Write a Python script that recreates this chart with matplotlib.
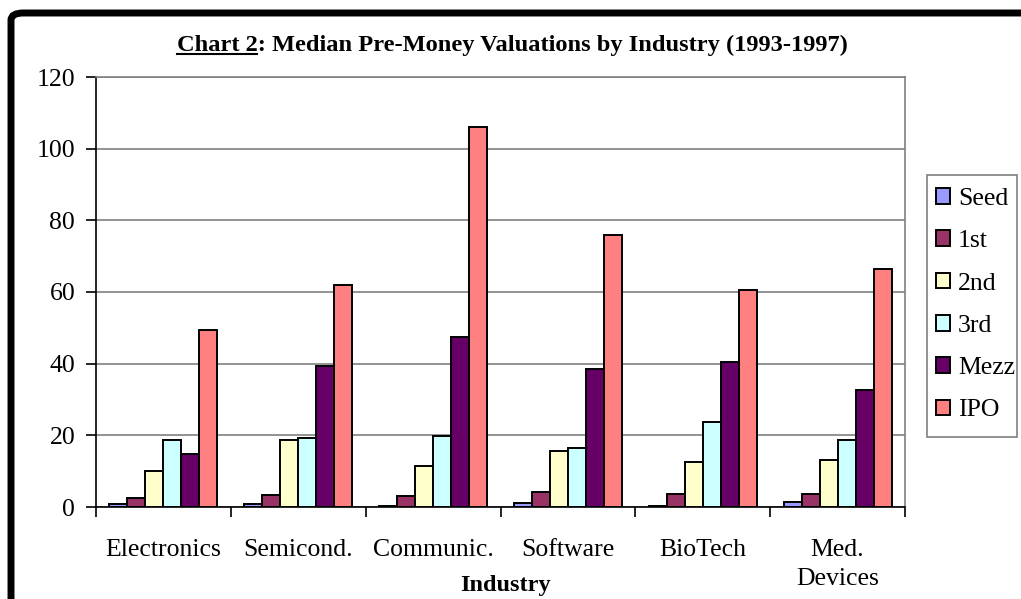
import matplotlib
matplotlib.use("Agg")
import matplotlib.pyplot as plt
import numpy as np
from matplotlib.patches import FancyBboxPatch, Rectangle

plt.rcParams['font.family'] = ['Liberation Serif', 'DejaVu Serif']

categories = ["Electronics", "Semicond.", "Communic.", "Software", "BioTech", "Med.\nDevices"]
series_names = ["Seed", "1st", "2nd", "3rd", "Mezz", "IPO"]
seed = [0.9, 0.9, 0.4, 1.0, 0.3, 1.4]
first = [2.6, 3.3, 3.2, 4.2, 3.7, 3.7]
second = [10.0, 18.7, 11.5, 15.5, 12.6, 13.2]
third = [18.8, 19.3, 19.8, 16.6, 23.8, 18.8]
mezz = [14.9, 39.4, 47.4, 38.5, 40.5, 32.7]
ipo = [49.4, 62.0, 106.0, 76.0, 60.5, 66.5]
yticks = [0, 20, 40, 60, 80, 100, 120]

colors = ["#9999FF", "#993366", "#FFFFCC", "#CCFFFF", "#660066", "#FF8080"]
values = [seed, first, second, third, mezz, ipo]

W, H = 1021, 599
fig = plt.figure(figsize=(W/100, H/100), dpi=100)
ax = fig.add_axes([96/W, 92/H, 809/W, 430/H])

n = len(series_names)
bw = 1/7.5
x = np.arange(len(categories))
for i, (name, vals, c) in enumerate(zip(series_names, values, colors)):
    ax.bar(x + (i - (n-1)/2)*bw, vals, width=bw, color=c, edgecolor='black',
           linewidth=1.4, label=name, zorder=3)

ax.set_xlim(-0.5, len(categories)-0.5)
ax.set_ylim(0, 120)
ax.set_yticks(yticks)
ax.yaxis.grid(True, color='#808080', linewidth=1.2, zorder=0)
ax.set_xticks(np.arange(len(categories)+1) - 0.5, minor=False)
ax.set_xticklabels([])
ax.set_xticks(x, minor=True)
ax.set_xticklabels(categories, minor=True, fontsize=18.5, linespacing=1.4)
ax.tick_params(axis='x', which='minor', length=0, pad=23)
ax.tick_params(axis='x', which='major', length=7, width=1.2, direction='out')
ax.tick_params(axis='y', length=7, width=1.2, direction='out', labelsize=18.5, pad=8)
for s in ['left', 'bottom']:
    ax.spines[s].set_color('black')
    ax.spines[s].set_linewidth(1.2)
for s in ['top', 'right']:
    ax.spines[s].set_color('#808080')
    ax.spines[s].set_linewidth(1.2)

fig.text(505/W, 1-591/H, "Industry", fontsize=17.5, fontweight='bold',
         ha='center', va='baseline')

title = "Chart 2: Median Pre-Money Valuations by Industry (1993-1997)"
tsize = 17.6
tt = fig.text(512/W, 1-45/H, title, fontsize=tsize, fontweight='bold',
              ha='center', va='center')
fig.canvas.draw()
r = fig.canvas.get_renderer()
bb = tt.get_window_extent(renderer=r)
tmp = fig.text(0, 0, "Chart 2", fontsize=tsize, fontweight='bold')
w = tmp.get_window_extent(renderer=r).width
tmp.remove()
y_ul = bb.y0 + 2
fig.add_artist(plt.Line2D([bb.x0/W, (bb.x0+w)/W], [y_ul/H, y_ul/H],
                          color='black', linewidth=1.5, transform=fig.transFigure))

leg = ax.legend(loc='upper left', bbox_to_anchor=(936/W, 1-188/H),
                bbox_transform=fig.transFigure, fontsize=18.5, frameon=False,
                handlelength=0.55, handleheight=0.55, handletextpad=0.3,
                labelspacing=0.79, borderpad=0, borderaxespad=0)
fig.add_artist(Rectangle((927/W, 1-437/H), 90/W, 262/H, transform=fig.transFigure,
                         fill=False, edgecolor='#808080', linewidth=1.2))

border = FancyBboxPatch((11/W, -0.1), 1.1, (H-13)/H + 0.1,
                        boxstyle="round,pad=0,rounding_size=0.012",
                        transform=fig.transFigure, fill=False,
                        edgecolor='black', linewidth=5)
fig.add_artist(border)

fig.savefig("out.png", dpi=100)
